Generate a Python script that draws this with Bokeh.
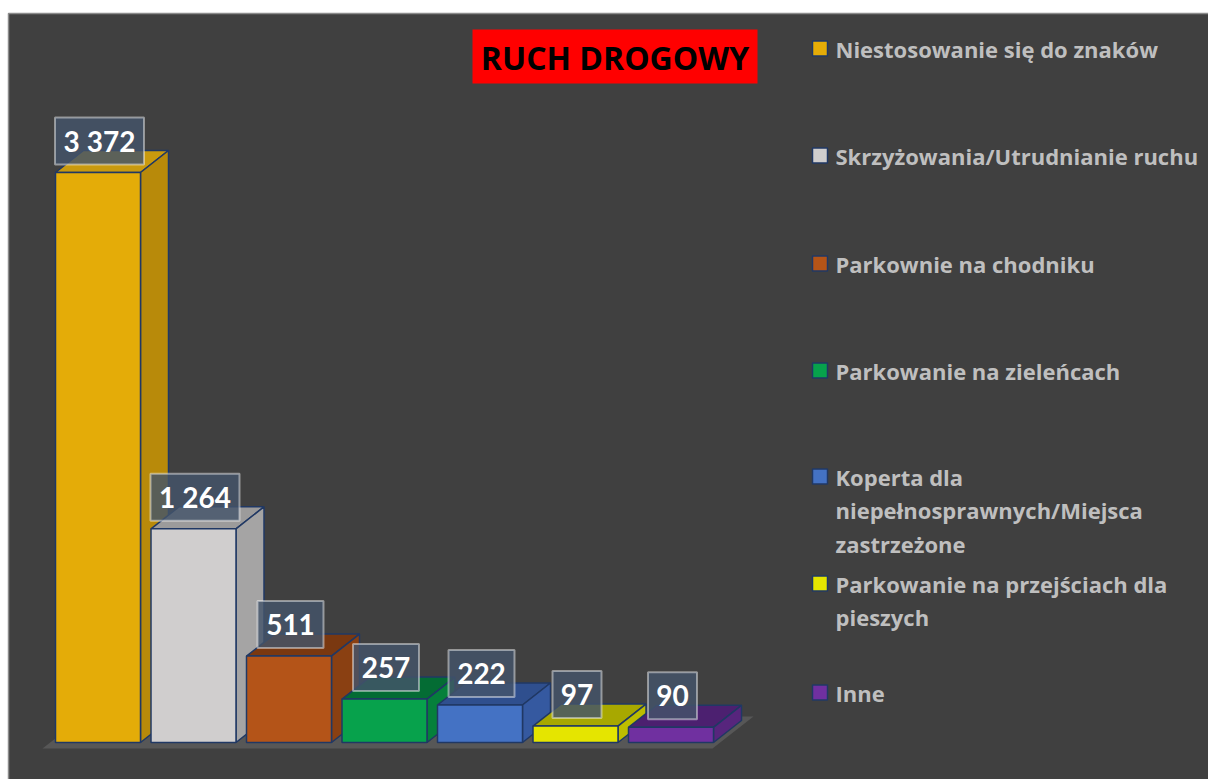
from bokeh.plotting import figure
from bokeh.models import Range1d
from bokeh.core.properties import value
from bokeh.embed import file_html
from bokeh.resources import INLINE

# ---- data ----
categories = [
    "Niestosowanie się do znaków",
    "Skrzyżowania/Utrudnianie ruchu",
    "Parkownie na chodniku",
    "Parkowanie na zieleńcach",
    "Koperta dla niepełnosprawnych/Miejsca zastrzeżone",
    "Parkowanie na przejściach dla pieszych",
    "Inne",
]
values = [3372, 1264, 511, 257, 222, 97, 90]
legend_lines = [
    ["Niestosowanie się do znaków"],
    ["Skrzyżowania/Utrudnianie ruchu"],
    ["Parkownie na chodniku"],
    ["Parkowanie na zieleńcach"],
    ["Koperta dla", "niepełnosprawnych/Miejsca", "zastrzeżone"],
    ["Parkowanie na przejściach dla", "pieszych"],
    ["Inne"],
]
title_text = "RUCH DROGOWY"

front_colors = ["#E4AC08", "#D0CECE", "#B45418", "#07A24C", "#4472C4", "#E5E500", "#7030A0"]
side_colors = ["#B88A0A", "#A5A4A4", "#8A4012", "#05803B", "#3559A0", "#BDBD00", "#57257D"]
top_colors = ["#C99A0E", "#9C9B9B", "#7A3810", "#046C34", "#2F4F8E", "#A8A800", "#4C2070"]
edge = "#203864"
bg = "#404040"

# ---- geometry helpers (page pixels -> data) ----
W, H = 1208, 779
BASE = 742.0          # page y of value 0
K = 570.0 / 3372.0    # pixels per unit


def v_of(pagey):
    return (BASE - pagey) / K


def dv(px):
    return px / K


p = figure(width=W, height=H, output_backend="svg", toolbar_location=None,
           x_range=Range1d(0, W), y_range=Range1d(v_of(H), v_of(0)),
           min_border=0, outline_line_color=None, background_fill_color="white",
           border_fill_color="white")
p.axis.visible = False
p.grid.visible = False

# chart background and border
p.quad(left=[8], right=[1212], top=[v_of(13)], bottom=[v_of(785)],
       fill_color=bg, line_color="#8C8C8C", line_width=1.5)

# floor
p.patch(x=[42, 712, 753, 83], y=[v_of(748), v_of(748), v_of(716), v_of(716)],
        fill_color="#575757", line_color=None)

# bars
DX, DY = 28, 22
BW, STEP, X0 = 85, 95.5, 55
for i, val in enumerate(values):
    l = X0 + STEP * i
    r = l + BW
    d = dv(DY)
    p.patch(x=[l, r, r + DX, l + DX], y=[val, val, val + d, val + d],
            fill_color=top_colors[i], line_color=edge, line_width=1.5)
    p.patch(x=[r, r + DX, r + DX, r], y=[0, d, val + d, val],
            fill_color=side_colors[i], line_color=edge, line_width=1.5)
    p.quad(left=[l], right=[r], bottom=[0], top=[val],
           fill_color=front_colors[i], line_color=edge, line_width=1.5)

# data labels
for i, val in enumerate(values):
    s = f"{val:,}".replace(",", " ")
    ndig = sum(c.isdigit() for c in s)
    w = 17 * ndig + 15 + (6 if " " in s else 0)
    cx = X0 + STEP * i + BW / 2 + 1.5
    bot = val + dv(8)
    top = bot + dv(47)
    p.quad(left=[cx - w / 2], right=[cx + w / 2], bottom=[bot], top=[top],
           fill_color="#44546A", fill_alpha=0.82, line_color="#FFFFFF",
           line_alpha=0.45, line_width=2)
    p.text(x=[cx], y=[(bot + top) / 2], text=[s], text_color="white",
           text_font=value("Lato"), text_font_style="bold", text_font_size="28px",
           text_align="center", text_baseline="middle")

# title
p.quad(left=[472], right=[757], top=[v_of(29)], bottom=[v_of(83)],
       fill_color="#FF0000", line_color=None)
p.text(x=[614.5], y=[v_of(57)], text=[title_text], text_color="black",
       text_font=value("Open Sans"), text_font_style="bold", text_font_size="32px",
       text_align="center", text_baseline="middle")

# legend
item_y = [48, 155, 263, 370, 476, 583, 692]
LINE = 33.5
for i, lines in enumerate(legend_lines):
    y0 = item_y[i]
    p.quad(left=[812], right=[827], top=[v_of(y0 - 7.5)], bottom=[v_of(y0 + 7.5)],
           fill_color=front_colors[i], line_color=edge, line_width=1.5)
    for j, t in enumerate(lines):
        p.text(x=[835], y=[v_of(y0 + j * LINE)], text=[t], text_color="#BFBFBF",
               text_font=value("Open Sans"), text_font_style="bold", text_font_size="22px",
               text_align="left", text_baseline="middle")

open("out.html", "w").write(file_html(p, INLINE))
